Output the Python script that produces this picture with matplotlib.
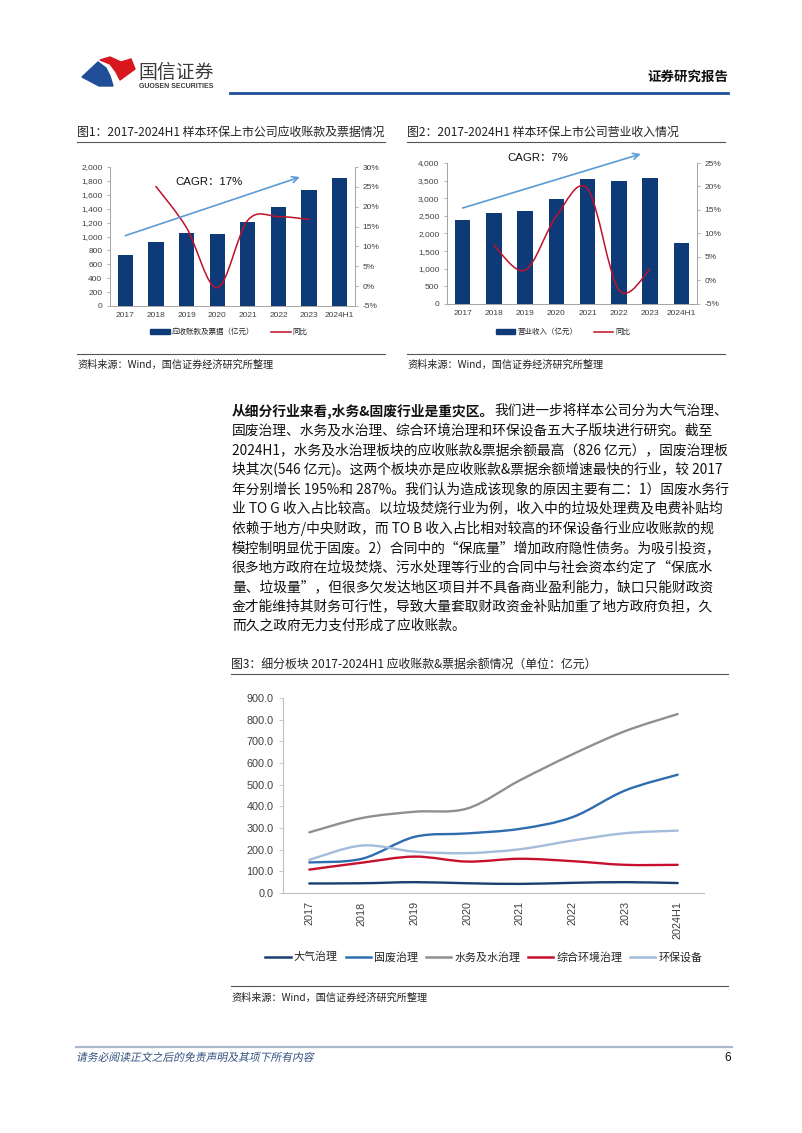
import matplotlib
matplotlib.use("Agg")
import matplotlib.pyplot as plt
from matplotlib.path import Path
from matplotlib.patches import PathPatch, Polygon, Rectangle
from matplotlib.lines import Line2D
from matplotlib.textpath import TextPath
from matplotlib.font_manager import FontProperties
from matplotlib.transforms import Affine2D
from matplotlib.ticker import FuncFormatter, MultipleLocator
import numpy as np

# ---------------- data ----------------
years = ["2017", "2018", "2019", "2020", "2021", "2022", "2023", "2024H1"]

# Fig 1: receivables & notes (亿元) and YoY (%), YoY for 2018-2023
receivables = [732, 916, 1051, 1041, 1214, 1427, 1667, 1841]
recv_yoy = [25.1, 14.7, -0.4, 16.6, 17.5, 16.8]

# Fig 2: revenue (亿元) and YoY (%), YoY for 2018-2023
revenue = [2392, 2572, 2629, 2988, 3546, 3499, 3584, 1730]
rev_yoy = [7.5, 2.2, 13.7, 19.5, -2.0, 2.4]

# Fig 3: receivables by sub-sector (亿元)
seg_names = ["大气治理", "固废治理", "水务及水治理", "综合环境治理", "环保设备"]
air = [44, 45, 50, 45, 42, 47, 50, 46]
solid = [141, 158, 259, 275, 296, 350, 473, 546]
water = [280, 346, 375, 390, 520, 640, 747, 826]
integ = [108, 140, 168, 145, 158, 147, 130, 130]
equip = [153, 219, 191, 184, 202, 242, 276, 288]

para_bold = "从细分行业来看,水务&固废行业是重灾区。"
para_lines = [
    "我们进一步将样本公司分为大气治理、",
    "固废治理、水务及水治理、综合环境治理和环保设备五大子版块进行研究。截至",
    "2024H1，水务及水治理板块的应收账款&票据余额最高（826 亿元），固废治理板",
    "块其次(546 亿元)。这两个板块亦是应收账款&票据余额增速最快的行业，较 2017",
    "年分别增长 195%和 287%。我们认为造成该现象的原因主要有二：1）固废水务行",
    "业 TO G 收入占比较高。以垃圾焚烧行业为例，收入中的垃圾处理费及电费补贴均",
    "依赖于地方/中央财政，而 TO B 收入占比相对较高的环保设备行业应收账款的规",
    "模控制明显优于固废。2）合同中的“保底量”增加政府隐性债务。为吸引投资，",
    "很多地方政府在垃圾焚烧、污水处理等行业的合同中与社会资本约定了“保底水",
    "量、垃圾量”，但很多欠发达地区项目并不具备商业盈利能力，缺口只能财政资",
    "金才能维持其财务可行性，导致大量套取财政资金补贴加重了地方政府负担，久",
    "而久之政府无力支付形成了应收账款。",
]

# ---------------- setup ----------------
plt.rcParams['font.family'] = ['Liberation Sans', 'Noto Sans CJK SC', 'DejaVu Sans']
CJK = ['Noto Sans CJK SC', 'DejaVu Sans']
W, H = 802, 1133
fig = plt.figure(figsize=(W / 100, H / 100), dpi=100)
fig.patch.set_facecolor('white')


def fx(x):
    return x / W


def fy(y):
    return 1 - y / H


def axrect(l, t, r, b):
    return [l / W, 1 - b / H, (r - l) / W, (b - t) / H]


def hline(x0, x1, y, color, lw):
    fig.add_artist(Line2D([fx(x0), fx(x1)], [fy(y), fy(y)], color=color, lw=lw,
                          transform=fig.transFigure))


def smooth_path(xs, ys):
    pts = np.column_stack([xs, ys]).astype(float)
    n = len(pts)
    verts = [pts[0]]
    codes = [Path.MOVETO]
    for i in range(n - 1):
        p0 = pts[i - 1] if i > 0 else pts[i]
        p1 = pts[i]
        p2 = pts[i + 1]
        p3 = pts[i + 2] if i + 2 < n else pts[i + 1]
        c1 = p1 + (p2 - p0) / 6.0
        c2 = p2 - (p3 - p1) / 6.0
        verts += [c1, c2, p2]
        codes += [Path.CURVE4] * 3
    return Path(verts, codes)


def add_smooth(ax, xs, ys, color, lw, zorder=3):
    ax.add_patch(PathPatch(smooth_path(xs, ys), fill=False, edgecolor=color, lw=lw,
                           zorder=zorder, capstyle='round', joinstyle='round'))


# ---------------- header ----------------
fig.add_artist(Polygon([(fx(82), fy(77)), (fx(98), fy(62)), (fx(106), fy(68)),
                        (fx(110), fy(76)), (fx(113), fy(86)), (fx(99), fy(86))],
                       closed=True, color='#1F4E96', transform=fig.transFigure))
fig.add_artist(Polygon([(fx(100), fy(60)), (fx(110), fy(57)), (fx(121), fy(62)),
                        (fx(131), fy(59)), (fx(135), fy(69)), (fx(120), fy(80)),
                        (fx(116), fy(72)), (fx(110), fy(64))],
                       closed=True, color='#D7161E', transform=fig.transFigure))
fig.text(fx(138), fy(72), "国信证券", family=CJK, fontsize=13.6, color='#3a3a3a',
         va='center', ha='left')
fig.text(fx(139), fy(86.5), "GUOSEN SECURITIES", fontsize=5, fontweight='bold',
         color='#3a3a3a', va='center', ha='left')
fig.text(fx(728), fy(77), "证券研究报告", family=CJK, fontsize=9.7, fontweight='bold',
         color='#111111', va='center', ha='right')
hline(230, 728, 93, '#1F4E96', 2.0)

# ---------------- figure titles / rules ----------------
fig.text(fx(77), fy(132), "图1：2017-2024H1 样本环保上市公司应收账款及票据情况", family=CJK,
         fontsize=8.6, color='#222222', va='center', ha='left')
hline(77, 385, 142, '#555555', 0.8)
fig.text(fx(407), fy(132), "图2：2017-2024H1 样本环保上市公司营业收入情况", family=CJK,
         fontsize=8.6, color='#222222', va='center', ha='left')
hline(407, 725, 142, '#555555', 0.8)

hline(77, 385, 354, '#555555', 0.8)
hline(407, 725, 354, '#555555', 0.8)
fig.text(fx(77), fy(364.5), "资料来源：Wind，国信证券经济研究所整理", family=CJK,
         fontsize=7.3, color='#222222', va='center', ha='left')
fig.text(fx(407), fy(364.5), "资料来源：Wind，国信证券经济研究所整理", family=CJK,
         fontsize=7.3, color='#222222', va='center', ha='left')

BAR = '#0E3B78'
RED = '#C0102A'
ARROW = '#5B9BD5'
GRID = '#A6A6A6'
TICK = '#404040'


def bar_line_chart(rect, bars, yoy, ymax, ystep, rmin, rmax, rstep, bar_label,
                   arrow_from, arrow_to, cagr_text, cagr_xy, legend_center):
    ax = fig.add_axes(axrect(*rect))
    x = np.arange(len(years))
    ax.bar(x, bars, width=0.5, color=BAR, zorder=2)
    ax.set_xlim(-0.5, len(years) - 0.5)
    ax.set_ylim(0, ymax)
    ax.yaxis.set_major_locator(MultipleLocator(ystep))
    ax.yaxis.set_major_formatter(FuncFormatter(lambda v, p: f"{int(v):,}"))
    ax.set_xticks(x)
    ax.set_xticklabels(years)
    ax.tick_params(axis='x', length=0, pad=4, labelsize=6, labelcolor=TICK)
    ax.tick_params(axis='y', length=2.5, width=0.6, color=GRID, pad=3,
                   labelsize=6, labelcolor=TICK)
    ax.spines['top'].set_visible(False)
    for s in ['left', 'bottom', 'right']:
        ax.spines[s].set_color(GRID)
        ax.spines[s].set_linewidth(0.7)
    axr = ax.twinx()
    axr.set_ylim(rmin, rmax)
    axr.yaxis.set_major_locator(MultipleLocator(rstep))
    axr.yaxis.set_major_formatter(FuncFormatter(lambda v, p: f"{int(round(v))}%"))
    axr.tick_params(axis='y', length=2.5, width=0.6, color=GRID, pad=3,
                    labelsize=6, labelcolor=TICK)
    axr.spines['top'].set_visible(False)
    for s in ['left', 'bottom', 'right']:
        axr.spines[s].set_color(GRID)
        axr.spines[s].set_linewidth(0.7)
    add_smooth(axr, x[1:1 + len(yoy)], yoy, RED, 1.1)
    axr.annotate('', xy=arrow_to, xytext=arrow_from, xycoords=ax.transData,
                 textcoords=ax.transData,
                 arrowprops=dict(arrowstyle='->', color=ARROW, lw=1.2,
                                 mutation_scale=11, shrinkA=0, shrinkB=0),
                 annotation_clip=False, zorder=5)
    axr.text(cagr_xy[0], cagr_xy[1], cagr_text, transform=ax.transData, fontsize=8.2,
             color='#111111', va='center', ha='left')
    handles = [Rectangle((0, 0), 1, 1, color=BAR),
               Line2D([0], [0], color=RED, lw=1.1)]
    fig.legend(handles, [bar_label, "同比"], loc='center',
               bbox_to_anchor=(fx(legend_center[0]), fy(legend_center[1])),
               bbox_transform=fig.transFigure, ncol=2, frameon=False,
               prop=FontProperties(family=CJK, size=5.4), handlelength=2.6,
               handleheight=0.55, columnspacing=2.2, handletextpad=0.3,
               labelcolor='#222222')
    return ax, axr


bar_line_chart((110, 167, 355, 306), receivables, recv_yoy, 2000, 200, -5, 30, 5,
               "应收账款及票据（亿元）", (0, 1012), (5.7, 1855), "CAGR：17%",
               (1.62, 1778), (229, 332))
bar_line_chart((447, 163, 697, 304), revenue, rev_yoy, 4000, 500, -5, 25, 5,
               "营业收入（亿元）", (0, 2723), (5.7, 4255), "CAGR：7%",
               (1.42, 4142), (563, 332))

# ---------------- paragraph ----------------
PX = 232
LINE_Y0 = 411
LSP = 19.55
PFS = 9.9
renderer = fig.canvas.get_renderer()
tb = fig.text(fx(PX), fy(LINE_Y0), para_bold, family=CJK, fontsize=PFS,
              fontweight='bold', color='#111111', va='center', ha='left')
bb = tb.get_window_extent(renderer=renderer)
fig.text(fx(PX + bb.width), fy(LINE_Y0), para_lines[0], family=CJK, fontsize=PFS,
         color='#111111', va='center', ha='left')
for i, ln in enumerate(para_lines[1:], start=1):
    fig.text(fx(PX), fy(LINE_Y0 + i * LSP), ln, family=CJK, fontsize=PFS,
             color='#111111', va='center', ha='left')

# ---------------- figure 3 ----------------
fig.text(fx(231), fy(664), "图3：细分板块 2017-2024H1 应收账款&票据余额情况（单位：亿元）",
         family=CJK, fontsize=8.6, color='#222222', va='center', ha='left')
hline(231, 728, 674, '#555555', 0.8)

ax3 = fig.add_axes(axrect(283, 698, 704, 893))
xs = np.arange(len(years))
seg_series = [air, solid, water, integ, equip]
seg_colors = ['#1B3F6E', '#2E6DAE', '#8F8F8F', '#C8102E', '#A3BCDB']
for vals, col in zip(seg_series, seg_colors):
    add_smooth(ax3, xs, vals, col, 1.7)
ax3.set_xlim(-0.5, len(years) - 0.5)
ax3.set_ylim(0, 900)
ax3.yaxis.set_major_locator(MultipleLocator(100))
ax3.yaxis.set_major_formatter(FuncFormatter(lambda v, p: f"{v:.1f}"))
ax3.set_xticks(xs)
ax3.set_xticklabels(years, rotation=90, va='top', ha='center')
ax3.tick_params(axis='x', length=0, pad=6, labelsize=7.8, labelcolor=TICK)
ax3.tick_params(axis='y', length=3, width=0.6, color='#BFBFBF', pad=4,
                labelsize=7.8, labelcolor=TICK)
for s in ['top', 'right']:
    ax3.spines[s].set_visible(False)
for s in ['left', 'bottom']:
    ax3.spines[s].set_color('#BFBFBF')
    ax3.spines[s].set_linewidth(0.8)
handles3 = [Line2D([0], [0], color=c, lw=1.8) for c in seg_colors]
fig.legend(handles3, seg_names, loc='center',
           bbox_to_anchor=(fx(484), fy(957)), bbox_transform=fig.transFigure,
           ncol=5, frameon=False, prop=FontProperties(family=CJK, size=7.9),
           handlelength=2.3, columnspacing=0.7, handletextpad=0.3,
           labelcolor='#222222')
hline(231, 728, 986, '#555555', 0.8)
fig.text(fx(231), fy(997.5), "资料来源：Wind，国信证券经济研究所整理", family=CJK,
         fontsize=7.3, color='#222222', va='center', ha='left')

# ---------------- footer ----------------
hline(76, 732, 1047, '#A9B8CC', 1.6)
fp = FontProperties(family=CJK)
tp = TextPath((0, 0), "请务必阅读正文之后的免责声明及其项下所有内容", size=10.8, prop=fp)
footer = PathPatch(tp, facecolor='#2F4E7E', edgecolor='none', lw=0,
                   transform=Affine2D().skew_deg(12, 0).translate(76, H - 1061))
fig.add_artist(footer)
fig.text(fx(731), fy(1058), "6", fontsize=8.5, color='#111111', va='center', ha='right')

fig.savefig("out.png", dpi=100, facecolor='white')
